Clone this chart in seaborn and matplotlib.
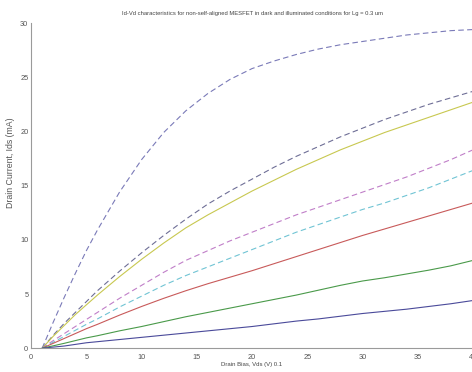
import seaborn as sns
import numpy as np
import matplotlib.pyplot as plt

# Drain bias (V)
vds = np.array([1, 2, 3, 4, 5, 6, 8, 10, 12, 14, 16, 18, 20, 22, 24, 26, 28, 30, 32, 34, 36, 38, 40])

# Drain current (mA) for each curve
id_top = np.array([0, 2.4, 4.7, 6.9, 9.0, 10.9, 14.4, 17.4, 19.9, 21.9, 23.5, 24.8, 25.8, 26.5, 27.1, 27.6, 28.0, 28.3, 28.6, 28.9, 29.1, 29.3, 29.4])
id_dash2 = np.array([0, 1.2, 2.3, 3.3, 4.3, 5.3, 7.1, 8.8, 10.4, 11.9, 13.3, 14.5, 15.6, 16.7, 17.7, 18.6, 19.5, 20.3, 21.1, 21.8, 22.5, 23.1, 23.7])
id_yellow = np.array([0, 1.1, 2.1, 3.1, 4.0, 4.9, 6.6, 8.2, 9.7, 11.1, 12.3, 13.4, 14.5, 15.5, 16.5, 17.4, 18.3, 19.1, 19.9, 20.6, 21.3, 22.0, 22.7])
id_magenta = np.array([0, 0.7, 1.35, 2.0, 2.65, 3.3, 4.6, 5.8, 7.0, 8.1, 9.0, 9.9, 10.7, 11.5, 12.3, 13.0, 13.7, 14.4, 15.1, 15.8, 16.6, 17.4, 18.3])
id_cyan = np.array([0, 0.55, 1.1, 1.65, 2.2, 2.7, 3.8, 4.8, 5.8, 6.7, 7.5, 8.3, 9.1, 9.9, 10.7, 11.4, 12.1, 12.8, 13.4, 14.1, 14.8, 15.6, 16.4])
id_red = np.array([0, 0.45, 0.9, 1.35, 1.8, 2.2, 3.05, 3.85, 4.6, 5.3, 5.95, 6.55, 7.15, 7.8, 8.45, 9.1, 9.75, 10.4, 11.0, 11.6, 12.2, 12.8, 13.4])
id_green = np.array([0, 0.22, 0.45, 0.7, 0.95, 1.15, 1.6, 2.0, 2.45, 2.9, 3.3, 3.7, 4.1, 4.5, 4.9, 5.35, 5.8, 6.2, 6.5, 6.85, 7.2, 7.6, 8.1])
id_blue = np.array([0, 0.1, 0.2, 0.35, 0.5, 0.6, 0.8, 1.0, 1.2, 1.4, 1.6, 1.8, 2.0, 2.25, 2.5, 2.7, 2.95, 3.2, 3.4, 3.6, 3.85, 4.1, 4.4])

sns.set_style("white")
plt.rcParams['font.family'] = ['Liberation Sans Narrow', 'Liberation Sans', 'DejaVu Sans']

fig = plt.figure(figsize=(4.72, 3.72), dpi=100)
ax = fig.add_axes([0.066, 0.064, 0.936, 0.874])

dash = (0, (5, 3))
curves = [
    (id_top, '#7a7ab8', dash),
    (id_dash2, '#6e6e96', dash),
    (id_yellow, '#c8c850', '-'),
    (id_magenta, '#c07ec8', dash),
    (id_cyan, '#70c4d4', dash),
    (id_red, '#c85a5a', '-'),
    (id_green, '#4a9a4a', '-'),
    (id_blue, '#4a4a9a', '-'),
]
for y, c, ls in curves:
    sns.lineplot(x=vds, y=y, ax=ax, color=c, linestyle=ls, linewidth=0.8)

ax.set_xlim(0, 40)
ax.set_ylim(0, 30)
ax.set_xticks(range(0, 41, 5))
ax.set_yticks(range(0, 31, 5))

for side in ['top', 'right']:
    ax.spines[side].set_visible(False)
for side in ['left', 'bottom']:
    ax.spines[side].set_color('#9a9a9a')
    ax.spines[side].set_linewidth(0.8)
ax.tick_params(direction='in', length=3, width=0.6, colors='#555555', labelsize=5.3, pad=2)
ax.tick_params(axis='x', pad=4)

ax.set_xlabel("Drain Bias, Vds (V) 0.1", fontsize=4.3, color='#444444', labelpad=1)
ax.set_ylabel("Drain Current, Ids (mA)", fontsize=6.3, color='#555555')
ax.yaxis.set_label_coords(-0.036, 0.57)
ax.set_title("Id-Vd characteristics for non-self-aligned MESFET in dark and illuminated conditions for Lg = 0.3 um",
             fontsize=4.2, color='#444444', pad=5.5)

fig.savefig("out.png", dpi=100)
